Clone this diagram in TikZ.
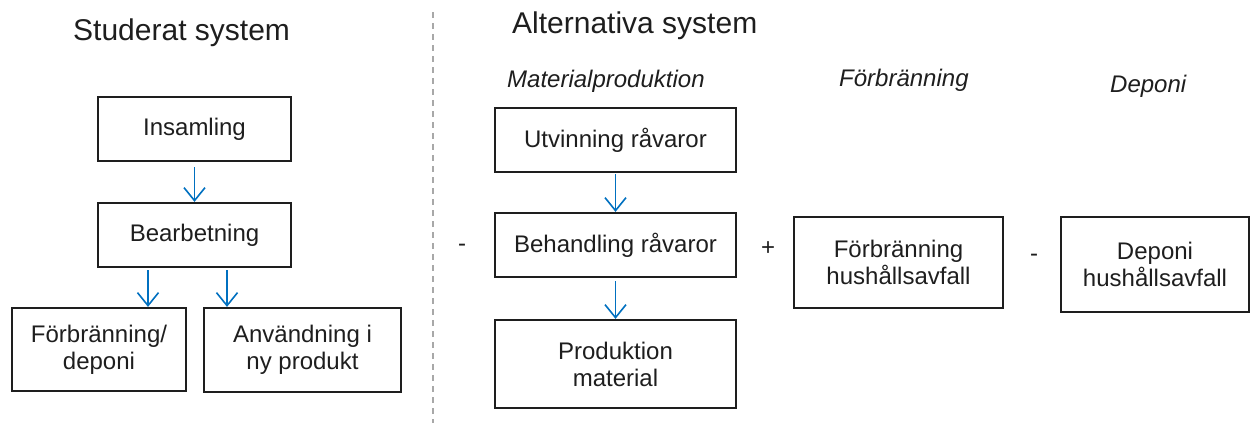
\documentclass[tikz,border=0pt]{standalone}
\usepackage{fontspec}
\setmainfont{Liberation Sans}
\usetikzlibrary{arrows.meta}
\definecolor{flowblue}{RGB}{0,112,192}
\definecolor{divgray}{RGB}{168,168,168}
\definecolor{inkgray}{RGB}{30,30,30}
\begin{document}
\begin{tikzpicture}[x=1pt,y=-1pt,
  box/.style={draw=inkgray, line width=2.2pt, inner sep=0pt, align=center,
    text=inkgray, font=\fontsize{24}{27}\selectfont},
  title/.style={anchor=base west, inner sep=0pt, text=inkgray,
    font=\fontsize{30}{36}\selectfont},
  heading/.style={anchor=base west, inner sep=0pt, text=inkgray,
    font=\fontsize{24}{28}\selectfont\itshape},
  sign/.style={inner sep=0pt, text=inkgray, font=\fontsize{24}{28}\selectfont},
  flow/.style={draw=flowblue, line width=1.6pt,
    -{Straight Barb[length=13pt,width=21pt,line width=1.6pt]}},
  divider/.style={draw=divgray, line width=1.3pt, dash pattern=on 6pt off 5pt}]
\useasboundingbox (0,0) rectangle (1250,423);

% headings
\node[title] (tstud) at (73,40) {Studerat system};
\node[title] (talt) at (512,33) {Alternativa system};
\node[heading] (hmat) at (507,87) {Materialproduktion};
\node[heading] (hforb) at (839,86) {Förbränning};
\node[heading] (hdep) at (1110,92) {Deponi};

% divider between the two systems
\coordinate (divtop) at (433,12);
\coordinate (divbot) at (433,423);
\draw[divider] (divtop) -- (divbot);

% studied system
\node[box, minimum width=193pt, minimum height=64pt] (ins) at (194.5,129) {Insamling};
\node[box, minimum width=193pt, minimum height=64pt] (bea) at (194.5,235) {Bearbetning};
\node[box, minimum width=174pt, minimum height=83pt] (fd) at (99,349.5) {Förbränning/\\deponi};
\node[box, minimum width=197pt, minimum height=84pt] (anv) at (302.5,350) {Användning i\\ny produkt};

\draw[flow] ([yshift=-5pt]ins.south) -- (bea.north);
\coordinate (s2) at ([xshift=-46.5pt,yshift=-2pt]bea.south);
\coordinate (s3) at ([xshift=32.5pt,yshift=-2pt]bea.south);
\draw[flow] (s2) -- (s2 |- fd.north);
\draw[flow] (s3) -- (s3 |- anv.north);

% alternative systems
\node[box, minimum width=241pt, minimum height=64pt] (utv) at (615.5,140) {Utvinning råvaror};
\node[box, minimum width=241pt, minimum height=64pt] (beh) at (615.5,245) {Behandling råvaror};
\node[box, minimum width=241pt, minimum height=88pt] (prod) at (615.5,364) {Produktion\\material};
\node[box, minimum width=209pt, minimum height=91pt] (forb) at (898.5,262.5) {Förbränning\\hushållsavfall};
\node[box, minimum width=188pt, minimum height=95pt] (dep) at (1155,264.5) {Deponi\\hushållsavfall};

\draw[flow] ([yshift=-1pt]utv.south) -- (beh.north);
\draw[flow] ([yshift=-3pt]beh.south) -- (prod.north);

% signs of the alternative systems
\node[sign] (sminus1) at (462,248) {-};
\node[sign] (splus) at (768,249) {+};
\node[sign] (sminus2) at (1034,258) {-};
\end{tikzpicture}
\end{document}
